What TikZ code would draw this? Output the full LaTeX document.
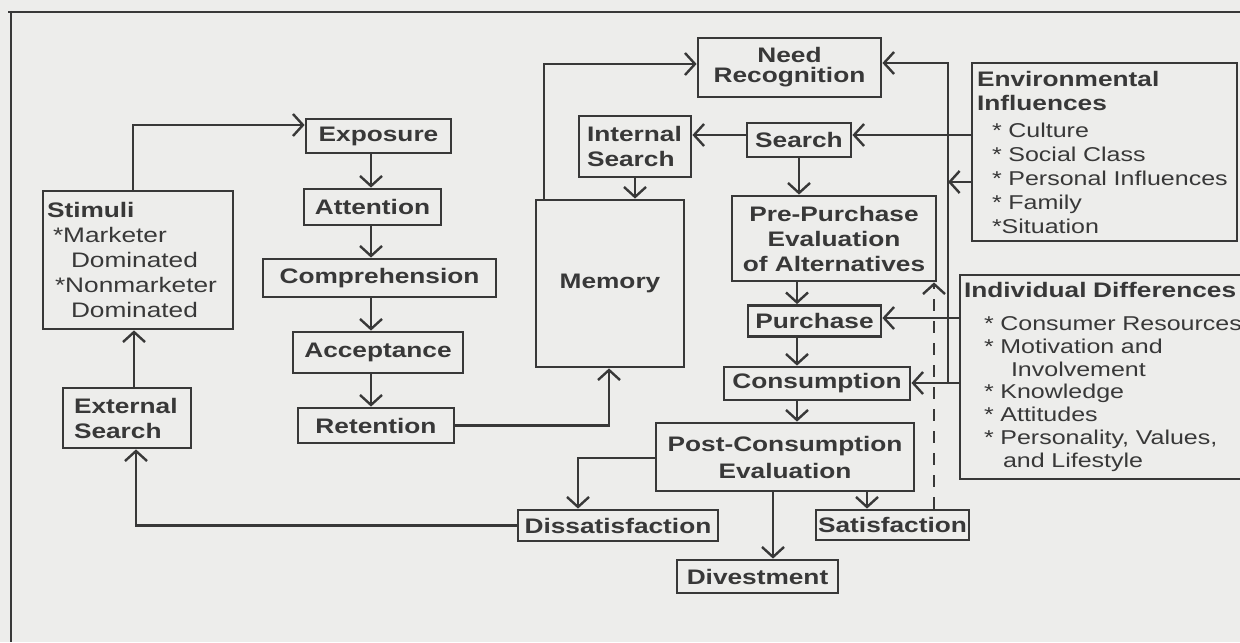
\documentclass[tikz,border=0pt]{standalone}
\usepackage{fontspec}
\setmainfont{Liberation Sans}[FakeStretch=1.25]
\usetikzlibrary{arrows.meta}
\definecolor{ink}{RGB}{56,56,56}
\definecolor{paper}{RGB}{237,237,235}
\begin{document}
\begin{tikzpicture}[x=0.5pt,y=-0.5pt,
  sz/.style 2 args={minimum width=#1*0.5pt, minimum height=#2*0.5pt},
  box/.style={draw=ink, line width=1.4pt, inner sep=0pt, text=ink, align=center,
    font=\bfseries\fontsize{10.5}{12.5}\selectfont},
  lbox/.style={box, align=left},
  conn/.style={draw=ink, line width=1.2pt, -{Straight Barb[length=5pt,width=11pt]}},
  feedback/.style={conn, dash pattern=on 6pt off 5pt},
  frameline/.style={draw=ink, line width=1pt}]

\useasboundingbox (0,0) rectangle (1240,642);
\fill[paper] (0,0) rectangle (1240,642);
\clip (0,0) rectangle (1240,642);

% partial frame around the figure
\draw[frameline] (8,12) -- (1240,12);
\draw[frameline] (11,11) -- (11,642);

% perception chain
\node[box, sz={145}{34}] (exposure) at (378.5,136) {Exposure};
\node[box, sz={137}{36}] (attention) at (372.5,207) {Attention};
\node[box, sz={233}{38}] (comprehension) at (379.5,278) {Comprehension};
\node[box, sz={170}{41}] (acceptance) at (378,352.5) {Acceptance};
\node[box, sz={156}{35}] (retention) at (376,425.5) {Retention};

% stimuli and search
\node[lbox, sz={190}{138}, inner xsep=2pt, text width=91pt,
      font=\fontsize{10.5}{12.5}\selectfont] (stimuli) at (138,260)
  {\textbf{Stimuli}\\
   \hspace*{3pt}*Marketer\\
   \hspace*{12pt}Dominated\\
   \hspace*{4pt}*Nonmarketer\\
   \hspace*{12pt}Dominated};
\node[lbox, sz={128}{60}, inner xsep=5.5pt, text width=53pt] (extsearch) at (127,418)
  {External\\Search};
\node[box, sz={148}{167}] (memory) at (610,283.5) {Memory};
\node[lbox, sz={112}{61}, inner xsep=4pt, text width=48pt] (intsearch) at (635,146.5)
  {Internal\\Search};

% decision process
\node[box, sz={183}{59}, font=\bfseries\fontsize{10.5}{10}\selectfont] (need) at (789.5,67.5)
  {Need\\Recognition};
\node[box, sz={104}{34}] (search) at (799,140) {Search};
\node[box, sz={204}{85}] (prepurchase) at (834,238.5)
  {Pre-Purchase\\Evaluation\\of Alternatives};
\node[box, sz={133}{31}] (purchase) at (814.5,321) {Purchase};
\node[box, sz={186}{33}] (consumption) at (817,383.5) {Consumption};
\node[box, sz={258}{68}, font=\bfseries\fontsize{10.5}{13.5}\selectfont] (postcon) at (785,457)
  {Post-Consumption\\Evaluation};
\node[box, sz={200}{31}] (dissat) at (618,525.5) {Dissatisfaction};
\node[box, sz={153}{30}] (sat) at (892.5,525) {Satisfaction};
\node[box, sz={161}{33}] (divest) at (757.5,576.5) {Divestment};

% influences
\node[lbox, sz={265}{178}, inner xsep=2.5pt, text width=127.5pt,
      font=\fontsize{10}{12}\selectfont] (env) at (1104.5,152)
  {\textbf{\fontsize{10.5}{12}\selectfont Environmental}\\
   \textbf{\fontsize{10.5}{12}\selectfont Influences}\\[1.5pt]
   \hspace*{7.5pt}* Culture\\
   \hspace*{7.5pt}* Social Class\\
   \hspace*{7.5pt}* Personal Influences\\
   \hspace*{7.5pt}* Family\\
   \hspace*{7.5pt}*Situation};
\node[lbox, sz={300}{204}, inner xsep=2pt, text width=146pt,
      font=\fontsize{10}{11.4}\selectfont] (indiv) at (1110,377)
  {\textbf{\fontsize{10.5}{11.4}\selectfont Individual Differences}\\[5pt]
   \hspace*{10pt}* Consumer Resources\\
   \hspace*{10pt}* Motivation and\\
   \hspace*{23.5pt}Involvement\\
   \hspace*{10pt}* Knowledge\\
   \hspace*{10pt}* Attitudes\\
   \hspace*{10pt}* Personality, Values,\\
   \hspace*{19.5pt}and Lifestyle};

% bend and column coordinates
\coordinate (kStim) at (133,125);
\coordinate (kCol) at (371,0);
\coordinate (kExt) at (134,0);
\coordinate (kDis) at (136,0);
\coordinate (kRet) at (609,0);
\coordinate (kMem) at (544,64);
\coordinate (kSrch) at (0,135);
\coordinate (busTop) at (948,63);
\coordinate (busIn) at (948,182);
\coordinate (busEnd) at (948,383);
\coordinate (kPur) at (0,318);
\coordinate (kMain) at (797,0);
\coordinate (kDs) at (578,458);
\coordinate (kDv) at (773,0);
\coordinate (kSt) at (867,0);
\coordinate (kFb) at (934,0);

% connectors, left part
\draw[conn] (stimuli.north -| kStim) |- (exposure.west |- kStim);
\draw[conn] (exposure.south -| kCol) -- (attention.north -| kCol);
\draw[conn] (attention.south -| kCol) -- (comprehension.north -| kCol);
\draw[conn] (comprehension.south -| kCol) -- (acceptance.north -| kCol);
\draw[conn] (acceptance.south -| kCol) -- (retention.north -| kCol);
\draw[conn] (extsearch.north -| kExt) -- (stimuli.south -| kExt);
\draw[conn] (dissat.west) -| (extsearch.south -| kDis);
\draw[conn] (retention.east) -| (memory.south -| kRet);
\draw[conn] (intsearch.south) -- (memory.north -| intsearch.south);
\draw[conn] (memory.north -| kMem) |- (need.west |- kMem);

% connectors, decision process
\draw[conn] (search.west |- kSrch) -- (intsearch.east |- kSrch);
\draw[conn] (search.south) -- (prepurchase.north -| search.south);
\draw[conn] (prepurchase.south -| kMain) -- (purchase.north -| kMain);
\draw[conn] (purchase.south -| kMain) -- (consumption.north -| kMain);
\draw[conn] (consumption.south -| kMain) -- (postcon.north -| kMain);
\draw[conn] (postcon.west |- kDs) -| (dissat.north -| kDs);
\draw[conn] (postcon.south -| kDv) -- (divest.north -| kDv);
\draw[conn] (postcon.south -| kSt) -- (sat.north -| kSt);
\draw[feedback] (sat.north -| kFb) -- (prepurchase.south -| kFb);

% influence lines
\draw[conn] (env.west |- kSrch) -- (search.east |- kSrch);
\draw[conn] (busEnd) -- (busTop) -- (need.east |- busTop);
\draw[conn] (env.west |- busIn) -- (busIn);
\draw[conn] (indiv.west |- kPur) -- (purchase.east |- kPur);
\draw[conn] (indiv.west |- busEnd) -- (consumption.east |- busEnd);
\end{tikzpicture}
\end{document}
